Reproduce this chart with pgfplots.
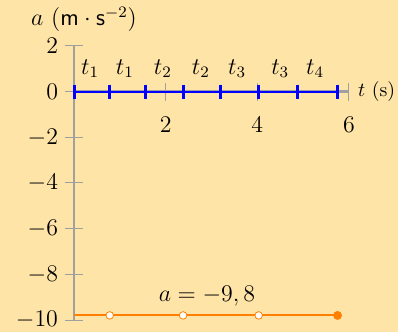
\documentclass[border=0pt]{standalone}
\usepackage{pgfplots}
\pgfplotsset{compat=1.18}
\definecolor{bg}{RGB}{255,228,168}
\definecolor{axgray}{RGB}{160,160,160}
\definecolor{myorange}{RGB}{255,128,0}
\begin{document}
\begin{tikzpicture}[every node/.append style={font=\large}]
\fill[bg] (-37bp,-6bp) rectangle (162bp,160bp);
\useasboundingbox (-37bp,-6bp) rectangle (162bp,160bp);
\begin{axis}[
    at={(0,0)}, anchor=south west,
    scale only axis, width=137.5bp, height=137bp,
    xmin=0, xmax=6, ymin=-10, ymax=2,
    axis x line=middle, axis y line=left,
    axis line style={axgray, line width=1.2bp, -},
    every tick/.style={axgray, line width=0.5bp},
    tick align=center, major tick length=9bp,
    xtick={2,4,6}, ytick={-10,-8,...,2},
    tick label style={font=\large},
    hide obscured y ticks=false,
    clip=false,
    xticklabel style={yshift=-4.5bp},
]
% a = 0 : dopo ogni rimbalzo
\addplot[blue, line width=1.1bp, mark=|, mark size=3.5bp,
    mark options={line width=1.5bp}]
    coordinates {(0,0)(0.78,0)(1.57,0)(2.38,0)(3.19,0)(4.03,0)(4.88,0)(5.75,0)};
% a = -9,8
\addplot[myorange, line width=1bp] coordinates {(0,-9.8)(5.75,-9.8)};
\addplot[only marks, mark=*, mark size=1.9bp,
    mark options={fill=white, draw=myorange, line width=0.4bp}]
    coordinates {(0.78,-9.8)(2.38,-9.8)(4.03,-9.8)};
\addplot[only marks, mark=*, mark size=2bp, myorange] coordinates {(5.75,-9.8)};

\node at (axis cs:0.35,1) {$t_1$};
\node at (axis cs:1.11,1) {$t_1$};
\node at (axis cs:1.94,1) {$t_2$};
\node at (axis cs:2.77,1) {$t_2$};
\node at (axis cs:3.56,1) {$t_3$};
\node at (axis cs:4.50,1) {$t_3$};
\node at (axis cs:5.26,1) {$t_4$};
\node at (axis cs:2.9,-8.95) {$a=-9,8$};
\node[anchor=south, xshift=5bp, yshift=3.5bp] at (axis cs:0,2) {$a$ ($\mathsf{m}\cdot\mathsf{s}^{-2}$)};
\node[anchor=west, xshift=1bp, font=\normalsize] at (axis cs:6,0) {$t$ (s)};
\end{axis}
\end{tikzpicture}
\end{document}
